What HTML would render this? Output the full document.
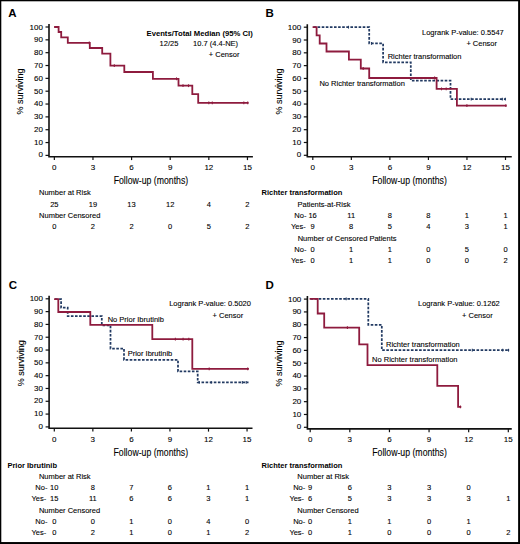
<!DOCTYPE html>
<html><head><meta charset="utf-8"><title>Kaplan-Meier survival curves</title>
<style>
html,body{margin:0;padding:0;background:#fff;}
body{width:520px;height:544px;overflow:hidden;}
svg{display:block;}
svg text{font-family:"Liberation Sans", sans-serif;fill:#000;stroke:#000;stroke-width:0.1px;} svg text[font-weight=bold]{stroke-width:0;}
</style></head>
<body>
<svg width="520" height="544" viewBox="0 0 520 544">
<rect x="0" y="0" width="520" height="544" fill="#fff"/>
<text x="8.30" y="16.80" font-size="11.5" text-anchor="start" font-weight="bold" >A</text>
<path d="M49.00,24.00 V156.80 H252.90" fill="none" stroke="#111" stroke-width="1.6"/>
<path d="M45.50,27.00 H49.00" stroke="#111" stroke-width="1.2"/>
<text x="42.90" y="29.60" font-size="8" text-anchor="end" font-weight="normal" >100</text>
<path d="M45.50,39.84 H49.00" stroke="#111" stroke-width="1.2"/>
<text x="42.90" y="42.38" font-size="8" text-anchor="end" font-weight="normal" >90</text>
<path d="M45.50,52.68 H49.00" stroke="#111" stroke-width="1.2"/>
<text x="42.90" y="55.16" font-size="8" text-anchor="end" font-weight="normal" >80</text>
<path d="M45.50,65.52 H49.00" stroke="#111" stroke-width="1.2"/>
<text x="42.90" y="67.94" font-size="8" text-anchor="end" font-weight="normal" >70</text>
<path d="M45.50,78.36 H49.00" stroke="#111" stroke-width="1.2"/>
<text x="42.90" y="80.72" font-size="8" text-anchor="end" font-weight="normal" >60</text>
<path d="M45.50,91.20 H49.00" stroke="#111" stroke-width="1.2"/>
<text x="42.90" y="93.50" font-size="8" text-anchor="end" font-weight="normal" >50</text>
<path d="M45.50,104.04 H49.00" stroke="#111" stroke-width="1.2"/>
<text x="42.90" y="106.28" font-size="8" text-anchor="end" font-weight="normal" >40</text>
<path d="M45.50,116.88 H49.00" stroke="#111" stroke-width="1.2"/>
<text x="42.90" y="119.06" font-size="8" text-anchor="end" font-weight="normal" >30</text>
<path d="M45.50,129.72 H49.00" stroke="#111" stroke-width="1.2"/>
<text x="42.90" y="131.84" font-size="8" text-anchor="end" font-weight="normal" >20</text>
<path d="M45.50,142.56 H49.00" stroke="#111" stroke-width="1.2"/>
<text x="42.90" y="144.62" font-size="8" text-anchor="end" font-weight="normal" >10</text>
<path d="M45.50,155.40 H49.00" stroke="#111" stroke-width="1.2"/>
<text x="42.90" y="157.40" font-size="8" text-anchor="end" font-weight="normal" >0</text>
<path d="M54.35,156.80 V160.10" stroke="#111" stroke-width="1.2"/>
<text x="54.35" y="169.80" font-size="8" text-anchor="middle" font-weight="normal" >0</text>
<path d="M92.97,156.80 V160.10" stroke="#111" stroke-width="1.2"/>
<text x="92.97" y="169.80" font-size="8" text-anchor="middle" font-weight="normal" >3</text>
<path d="M131.59,156.80 V160.10" stroke="#111" stroke-width="1.2"/>
<text x="131.59" y="169.80" font-size="8" text-anchor="middle" font-weight="normal" >6</text>
<path d="M170.21,156.80 V160.10" stroke="#111" stroke-width="1.2"/>
<text x="170.21" y="169.80" font-size="8" text-anchor="middle" font-weight="normal" >9</text>
<path d="M208.83,156.80 V160.10" stroke="#111" stroke-width="1.2"/>
<text x="208.83" y="169.80" font-size="8" text-anchor="middle" font-weight="normal" >12</text>
<path d="M247.45,156.80 V160.10" stroke="#111" stroke-width="1.2"/>
<text x="247.45" y="169.80" font-size="8" text-anchor="middle" font-weight="normal" >15</text>
<text x="150.95" y="183.60" font-size="10" text-anchor="middle" textLength="74.6" lengthAdjust="spacingAndGlyphs">Follow-up (months)</text>
<text x="0" y="0" font-size="9" text-anchor="middle" transform="translate(23.40,91.50) rotate(-90)">% surviving</text>
<path d="M55.00,27.00 H58.60 V32.00 H61.20 V37.40 H67.80 V42.80 H89.80 V48.00 H102.20 V53.60 H110.40 V65.60 H124.30 V72.00 H152.90 V78.80 H178.50 V85.70 H192.30 V94.20 H198.20 V102.80 H247.70" fill="none" stroke="#8e1b3e" stroke-width="1.8" stroke-linejoin="miter" stroke-linecap="square"/>
<path d="M89.30,41.40 V44.20" stroke="#8e1b3e" stroke-width="1.1"/>
<path d="M114.30,64.20 V67.00" stroke="#8e1b3e" stroke-width="1.1"/>
<path d="M176.50,77.40 V80.20" stroke="#8e1b3e" stroke-width="1.1"/>
<path d="M183.00,84.30 V87.10" stroke="#8e1b3e" stroke-width="1.1"/>
<path d="M188.50,84.30 V87.10" stroke="#8e1b3e" stroke-width="1.1"/>
<path d="M208.80,101.40 V104.20" stroke="#8e1b3e" stroke-width="1.1"/>
<path d="M212.30,101.40 V104.20" stroke="#8e1b3e" stroke-width="1.1"/>
<path d="M243.80,101.40 V104.20" stroke="#8e1b3e" stroke-width="1.1"/>
<path d="M247.70,101.40 V104.20" stroke="#8e1b3e" stroke-width="1.1"/>
<text x="146.50" y="36.00" font-size="7.7" text-anchor="start" font-weight="bold" >Events/Total Median (95% CI)</text>
<text x="159.60" y="46.40" font-size="7.5" text-anchor="start" font-weight="normal" >12/25</text>
<text x="193.10" y="46.40" font-size="7.5" text-anchor="start" font-weight="normal" >10.7 (4.4-NE)</text>
<text x="208.80" y="56.80" font-size="7.5" text-anchor="start" font-weight="normal" >+ Censor</text>
<text x="39.00" y="195.30" font-size="7.5" text-anchor="start" font-weight="normal" >Number at Risk</text>
<text x="54.30" y="207.10" font-size="7.5" text-anchor="middle" font-weight="normal" >25</text>
<text x="92.92" y="207.10" font-size="7.5" text-anchor="middle" font-weight="normal" >19</text>
<text x="131.54" y="207.10" font-size="7.5" text-anchor="middle" font-weight="normal" >13</text>
<text x="170.16" y="207.10" font-size="7.5" text-anchor="middle" font-weight="normal" >12</text>
<text x="208.78" y="207.10" font-size="7.5" text-anchor="middle" font-weight="normal" >4</text>
<text x="247.40" y="207.10" font-size="7.5" text-anchor="middle" font-weight="normal" >2</text>
<text x="39.10" y="218.30" font-size="7.5" text-anchor="start" font-weight="normal" >Number Censored</text>
<text x="54.30" y="229.10" font-size="7.5" text-anchor="middle" font-weight="normal" >0</text>
<text x="92.92" y="229.10" font-size="7.5" text-anchor="middle" font-weight="normal" >2</text>
<text x="131.54" y="229.10" font-size="7.5" text-anchor="middle" font-weight="normal" >2</text>
<text x="170.16" y="229.10" font-size="7.5" text-anchor="middle" font-weight="normal" >0</text>
<text x="208.78" y="229.10" font-size="7.5" text-anchor="middle" font-weight="normal" >5</text>
<text x="247.40" y="229.10" font-size="7.5" text-anchor="middle" font-weight="normal" >2</text>
<text x="265.50" y="16.70" font-size="11.5" text-anchor="start" font-weight="bold" >B</text>
<path d="M307.30,24.20 V156.70 H511.75" fill="none" stroke="#111" stroke-width="1.6"/>
<path d="M303.80,27.20 H307.30" stroke="#111" stroke-width="1.2"/>
<text x="301.20" y="29.80" font-size="8" text-anchor="end" font-weight="normal" >100</text>
<path d="M303.80,40.01 H307.30" stroke="#111" stroke-width="1.2"/>
<text x="301.20" y="42.55" font-size="8" text-anchor="end" font-weight="normal" >90</text>
<path d="M303.80,52.82 H307.30" stroke="#111" stroke-width="1.2"/>
<text x="301.20" y="55.30" font-size="8" text-anchor="end" font-weight="normal" >80</text>
<path d="M303.80,65.63 H307.30" stroke="#111" stroke-width="1.2"/>
<text x="301.20" y="68.05" font-size="8" text-anchor="end" font-weight="normal" >70</text>
<path d="M303.80,78.44 H307.30" stroke="#111" stroke-width="1.2"/>
<text x="301.20" y="80.80" font-size="8" text-anchor="end" font-weight="normal" >60</text>
<path d="M303.80,91.25 H307.30" stroke="#111" stroke-width="1.2"/>
<text x="301.20" y="93.55" font-size="8" text-anchor="end" font-weight="normal" >50</text>
<path d="M303.80,104.06 H307.30" stroke="#111" stroke-width="1.2"/>
<text x="301.20" y="106.30" font-size="8" text-anchor="end" font-weight="normal" >40</text>
<path d="M303.80,116.87 H307.30" stroke="#111" stroke-width="1.2"/>
<text x="301.20" y="119.05" font-size="8" text-anchor="end" font-weight="normal" >30</text>
<path d="M303.80,129.68 H307.30" stroke="#111" stroke-width="1.2"/>
<text x="301.20" y="131.80" font-size="8" text-anchor="end" font-weight="normal" >20</text>
<path d="M303.80,142.49 H307.30" stroke="#111" stroke-width="1.2"/>
<text x="301.20" y="144.55" font-size="8" text-anchor="end" font-weight="normal" >10</text>
<path d="M303.80,155.30 H307.30" stroke="#111" stroke-width="1.2"/>
<text x="301.20" y="157.30" font-size="8" text-anchor="end" font-weight="normal" >0</text>
<path d="M312.80,156.70 V160.00" stroke="#111" stroke-width="1.2"/>
<text x="312.80" y="169.80" font-size="8" text-anchor="middle" font-weight="normal" >0</text>
<path d="M351.34,156.70 V160.00" stroke="#111" stroke-width="1.2"/>
<text x="351.34" y="169.80" font-size="8" text-anchor="middle" font-weight="normal" >3</text>
<path d="M389.88,156.70 V160.00" stroke="#111" stroke-width="1.2"/>
<text x="389.88" y="169.80" font-size="8" text-anchor="middle" font-weight="normal" >6</text>
<path d="M428.42,156.70 V160.00" stroke="#111" stroke-width="1.2"/>
<text x="428.42" y="169.80" font-size="8" text-anchor="middle" font-weight="normal" >9</text>
<path d="M466.96,156.70 V160.00" stroke="#111" stroke-width="1.2"/>
<text x="466.96" y="169.80" font-size="8" text-anchor="middle" font-weight="normal" >12</text>
<path d="M505.50,156.70 V160.00" stroke="#111" stroke-width="1.2"/>
<text x="505.50" y="169.80" font-size="8" text-anchor="middle" font-weight="normal" >15</text>
<text x="409.52" y="183.60" font-size="10" text-anchor="middle" textLength="74.6" lengthAdjust="spacingAndGlyphs">Follow-up (months)</text>
<text x="0" y="0" font-size="9" text-anchor="middle" transform="translate(281.70,91.55) rotate(-90)">% surviving</text>
<path d="M313.50,27.20 H369.20 V43.40 H383.10 V62.30 H410.80 V80.50 H450.50 V99.20 H505.80" fill="none" stroke="#223a62" stroke-width="1.75" stroke-dasharray="2.6 1.5"/>
<path d="M348.50,25.80 V28.60" stroke="#223a62" stroke-width="1.1"/>
<path d="M371.50,42.00 V44.80" stroke="#223a62" stroke-width="1.1"/>
<path d="M471.20,97.80 V100.60" stroke="#223a62" stroke-width="1.1"/>
<path d="M502.30,97.80 V100.60" stroke="#223a62" stroke-width="1.1"/>
<path d="M505.40,97.80 V100.60" stroke="#223a62" stroke-width="1.1"/>
<path d="M313.50,27.20 H316.60 V35.40 H319.70 V43.50 H326.50 V51.50 H348.90 V59.70 H360.80 V68.50 H369.20 V78.00 H436.60 V88.90 H456.90 V105.70 H505.80" fill="none" stroke="#8e1b3e" stroke-width="1.8" stroke-linejoin="miter" stroke-linecap="square"/>
<path d="M363.20,67.10 V69.90" stroke="#8e1b3e" stroke-width="1.1"/>
<path d="M434.60,76.60 V79.40" stroke="#8e1b3e" stroke-width="1.1"/>
<path d="M441.50,87.50 V90.30" stroke="#8e1b3e" stroke-width="1.1"/>
<path d="M446.20,87.50 V90.30" stroke="#8e1b3e" stroke-width="1.1"/>
<path d="M466.90,104.30 V107.10" stroke="#8e1b3e" stroke-width="1.1"/>
<path d="M505.80,104.30 V107.10" stroke="#8e1b3e" stroke-width="1.1"/>
<text x="422.00" y="35.20" font-size="7.5" text-anchor="start" font-weight="normal" >Logrank P-value: 0.5547</text>
<text x="466.40" y="46.00" font-size="7.5" text-anchor="start" font-weight="normal" >+ Censor</text>
<text x="387.70" y="59.20" font-size="7.5" text-anchor="start" font-weight="normal" >Richter transformation</text>
<text x="319.40" y="85.90" font-size="7.5" text-anchor="start" font-weight="normal" >No Richter transformation</text>
<text x="261.50" y="195.30" font-size="7.5" text-anchor="start" font-weight="bold" >Richter transformation</text>
<text x="297.50" y="206.70" font-size="7.5" text-anchor="start" font-weight="normal" >Patients-at-Risk</text>
<text x="300.40" y="217.80" font-size="7.5" text-anchor="middle" font-weight="normal" >No-</text>
<text x="312.60" y="217.80" font-size="7.5" text-anchor="middle" font-weight="normal" >16</text>
<text x="351.18" y="217.80" font-size="7.5" text-anchor="middle" font-weight="normal" >11</text>
<text x="389.76" y="217.80" font-size="7.5" text-anchor="middle" font-weight="normal" >8</text>
<text x="428.34" y="217.80" font-size="7.5" text-anchor="middle" font-weight="normal" >8</text>
<text x="466.92" y="217.80" font-size="7.5" text-anchor="middle" font-weight="normal" >1</text>
<text x="505.50" y="217.80" font-size="7.5" text-anchor="middle" font-weight="normal" >1</text>
<text x="298.30" y="228.90" font-size="7.5" text-anchor="middle" font-weight="normal" >Yes-</text>
<text x="312.60" y="228.90" font-size="7.5" text-anchor="middle" font-weight="normal" >9</text>
<text x="351.18" y="228.90" font-size="7.5" text-anchor="middle" font-weight="normal" >8</text>
<text x="389.76" y="228.90" font-size="7.5" text-anchor="middle" font-weight="normal" >5</text>
<text x="428.34" y="228.90" font-size="7.5" text-anchor="middle" font-weight="normal" >4</text>
<text x="466.92" y="228.90" font-size="7.5" text-anchor="middle" font-weight="normal" >3</text>
<text x="505.50" y="228.90" font-size="7.5" text-anchor="middle" font-weight="normal" >1</text>
<text x="297.70" y="240.75" font-size="7.5" text-anchor="start" font-weight="normal" >Number of Censored Patients</text>
<text x="300.40" y="252.30" font-size="7.5" text-anchor="middle" font-weight="normal" >No-</text>
<text x="312.60" y="252.30" font-size="7.5" text-anchor="middle" font-weight="normal" >0</text>
<text x="351.18" y="252.30" font-size="7.5" text-anchor="middle" font-weight="normal" >1</text>
<text x="389.76" y="252.30" font-size="7.5" text-anchor="middle" font-weight="normal" >1</text>
<text x="428.34" y="252.30" font-size="7.5" text-anchor="middle" font-weight="normal" >0</text>
<text x="466.92" y="252.30" font-size="7.5" text-anchor="middle" font-weight="normal" >5</text>
<text x="505.50" y="252.30" font-size="7.5" text-anchor="middle" font-weight="normal" >0</text>
<text x="298.30" y="263.40" font-size="7.5" text-anchor="middle" font-weight="normal" >Yes-</text>
<text x="312.60" y="263.40" font-size="7.5" text-anchor="middle" font-weight="normal" >0</text>
<text x="351.18" y="263.40" font-size="7.5" text-anchor="middle" font-weight="normal" >1</text>
<text x="389.76" y="263.40" font-size="7.5" text-anchor="middle" font-weight="normal" >1</text>
<text x="428.34" y="263.40" font-size="7.5" text-anchor="middle" font-weight="normal" >0</text>
<text x="466.92" y="263.40" font-size="7.5" text-anchor="middle" font-weight="normal" >0</text>
<text x="505.50" y="263.40" font-size="7.5" text-anchor="middle" font-weight="normal" >2</text>
<text x="8.80" y="289.00" font-size="11.5" text-anchor="start" font-weight="bold" >C</text>
<path d="M49.10,295.80 V428.30 H252.50" fill="none" stroke="#111" stroke-width="1.6"/>
<path d="M45.60,298.80 H49.10" stroke="#111" stroke-width="1.2"/>
<text x="43.00" y="301.40" font-size="8" text-anchor="end" font-weight="normal" >100</text>
<path d="M45.60,311.61 H49.10" stroke="#111" stroke-width="1.2"/>
<text x="43.00" y="314.15" font-size="8" text-anchor="end" font-weight="normal" >90</text>
<path d="M45.60,324.42 H49.10" stroke="#111" stroke-width="1.2"/>
<text x="43.00" y="326.90" font-size="8" text-anchor="end" font-weight="normal" >80</text>
<path d="M45.60,337.23 H49.10" stroke="#111" stroke-width="1.2"/>
<text x="43.00" y="339.65" font-size="8" text-anchor="end" font-weight="normal" >70</text>
<path d="M45.60,350.04 H49.10" stroke="#111" stroke-width="1.2"/>
<text x="43.00" y="352.40" font-size="8" text-anchor="end" font-weight="normal" >60</text>
<path d="M45.60,362.85 H49.10" stroke="#111" stroke-width="1.2"/>
<text x="43.00" y="365.15" font-size="8" text-anchor="end" font-weight="normal" >50</text>
<path d="M45.60,375.66 H49.10" stroke="#111" stroke-width="1.2"/>
<text x="43.00" y="377.90" font-size="8" text-anchor="end" font-weight="normal" >40</text>
<path d="M45.60,388.47 H49.10" stroke="#111" stroke-width="1.2"/>
<text x="43.00" y="390.65" font-size="8" text-anchor="end" font-weight="normal" >30</text>
<path d="M45.60,401.28 H49.10" stroke="#111" stroke-width="1.2"/>
<text x="43.00" y="403.40" font-size="8" text-anchor="end" font-weight="normal" >20</text>
<path d="M45.60,414.09 H49.10" stroke="#111" stroke-width="1.2"/>
<text x="43.00" y="416.15" font-size="8" text-anchor="end" font-weight="normal" >10</text>
<path d="M45.60,426.90 H49.10" stroke="#111" stroke-width="1.2"/>
<text x="43.00" y="428.90" font-size="8" text-anchor="end" font-weight="normal" >0</text>
<path d="M54.30,428.30 V431.60" stroke="#111" stroke-width="1.2"/>
<text x="54.30" y="441.70" font-size="8" text-anchor="middle" font-weight="normal" >0</text>
<path d="M92.85,428.30 V431.60" stroke="#111" stroke-width="1.2"/>
<text x="92.85" y="441.70" font-size="8" text-anchor="middle" font-weight="normal" >3</text>
<path d="M131.40,428.30 V431.60" stroke="#111" stroke-width="1.2"/>
<text x="131.40" y="441.70" font-size="8" text-anchor="middle" font-weight="normal" >6</text>
<path d="M169.95,428.30 V431.60" stroke="#111" stroke-width="1.2"/>
<text x="169.95" y="441.70" font-size="8" text-anchor="middle" font-weight="normal" >9</text>
<path d="M208.50,428.30 V431.60" stroke="#111" stroke-width="1.2"/>
<text x="208.50" y="441.70" font-size="8" text-anchor="middle" font-weight="normal" >12</text>
<path d="M247.05,428.30 V431.60" stroke="#111" stroke-width="1.2"/>
<text x="247.05" y="441.70" font-size="8" text-anchor="middle" font-weight="normal" >15</text>
<text x="150.80" y="455.80" font-size="10" text-anchor="middle" textLength="74.6" lengthAdjust="spacingAndGlyphs">Follow-up (months)</text>
<text x="0" y="0" font-size="9" text-anchor="middle" transform="translate(23.50,363.15) rotate(-90)">% surviving</text>
<path d="M55.00,299.20 H61.10 V307.70 H67.70 V316.10 H101.80 V325.40 H110.50 V348.60 H124.00 V359.80 H178.00 V371.40 H197.70 V382.30 H248.50" fill="none" stroke="#223a62" stroke-width="1.75" stroke-dasharray="2.6 1.5"/>
<path d="M199.20,380.90 V383.70" stroke="#223a62" stroke-width="1.1"/>
<path d="M211.20,380.90 V383.70" stroke="#223a62" stroke-width="1.1"/>
<path d="M242.30,380.90 V383.70" stroke="#223a62" stroke-width="1.1"/>
<path d="M246.20,380.90 V383.70" stroke="#223a62" stroke-width="1.1"/>
<path d="M55.00,299.20 H58.30 V312.00 H90.30 V324.90 H152.30 V339.20 H192.30 V368.80 H248.00" fill="none" stroke="#8e1b3e" stroke-width="1.8" stroke-linejoin="miter" stroke-linecap="square"/>
<path d="M175.40,337.80 V340.60" stroke="#8e1b3e" stroke-width="1.1"/>
<path d="M183.10,337.80 V340.60" stroke="#8e1b3e" stroke-width="1.1"/>
<path d="M188.80,337.80 V340.60" stroke="#8e1b3e" stroke-width="1.1"/>
<path d="M209.20,367.40 V370.20" stroke="#8e1b3e" stroke-width="1.1"/>
<path d="M247.70,367.40 V370.20" stroke="#8e1b3e" stroke-width="1.1"/>
<text x="169.20" y="306.30" font-size="7.5" text-anchor="start" font-weight="normal" >Logrank P-value: 0.5020</text>
<text x="212.50" y="317.60" font-size="7.5" text-anchor="start" font-weight="normal" >+ Censor</text>
<text x="107.70" y="321.80" font-size="7.5" text-anchor="start" font-weight="normal" >No Prior Ibrutinib</text>
<text x="127.70" y="356.20" font-size="7.5" text-anchor="start" font-weight="normal" >Prior Ibrutinib</text>
<text x="7.40" y="467.50" font-size="7.5" text-anchor="start" font-weight="bold" >Prior Ibrutinib</text>
<text x="38.90" y="478.65" font-size="7.5" text-anchor="start" font-weight="normal" >Number at Risk</text>
<text x="41.40" y="489.80" font-size="7.5" text-anchor="middle" font-weight="normal" >No-</text>
<text x="54.25" y="489.80" font-size="7.5" text-anchor="middle" font-weight="normal" >10</text>
<text x="92.80" y="489.80" font-size="7.5" text-anchor="middle" font-weight="normal" >8</text>
<text x="131.35" y="489.80" font-size="7.5" text-anchor="middle" font-weight="normal" >7</text>
<text x="169.90" y="489.80" font-size="7.5" text-anchor="middle" font-weight="normal" >6</text>
<text x="208.45" y="489.80" font-size="7.5" text-anchor="middle" font-weight="normal" >1</text>
<text x="247.00" y="489.80" font-size="7.5" text-anchor="middle" font-weight="normal" >1</text>
<text x="38.90" y="500.90" font-size="7.5" text-anchor="middle" font-weight="normal" >Yes-</text>
<text x="54.25" y="500.90" font-size="7.5" text-anchor="middle" font-weight="normal" >15</text>
<text x="92.80" y="500.90" font-size="7.5" text-anchor="middle" font-weight="normal" >11</text>
<text x="131.35" y="500.90" font-size="7.5" text-anchor="middle" font-weight="normal" >6</text>
<text x="169.90" y="500.90" font-size="7.5" text-anchor="middle" font-weight="normal" >6</text>
<text x="208.45" y="500.90" font-size="7.5" text-anchor="middle" font-weight="normal" >3</text>
<text x="247.00" y="500.90" font-size="7.5" text-anchor="middle" font-weight="normal" >1</text>
<text x="38.90" y="512.75" font-size="7.5" text-anchor="start" font-weight="normal" >Number Censored</text>
<text x="41.40" y="524.30" font-size="7.5" text-anchor="middle" font-weight="normal" >No-</text>
<text x="54.25" y="524.30" font-size="7.5" text-anchor="middle" font-weight="normal" >0</text>
<text x="92.80" y="524.30" font-size="7.5" text-anchor="middle" font-weight="normal" >0</text>
<text x="131.35" y="524.30" font-size="7.5" text-anchor="middle" font-weight="normal" >1</text>
<text x="169.90" y="524.30" font-size="7.5" text-anchor="middle" font-weight="normal" >0</text>
<text x="208.45" y="524.30" font-size="7.5" text-anchor="middle" font-weight="normal" >4</text>
<text x="247.00" y="524.30" font-size="7.5" text-anchor="middle" font-weight="normal" >0</text>
<text x="38.90" y="535.40" font-size="7.5" text-anchor="middle" font-weight="normal" >Yes-</text>
<text x="54.25" y="535.40" font-size="7.5" text-anchor="middle" font-weight="normal" >0</text>
<text x="92.80" y="535.40" font-size="7.5" text-anchor="middle" font-weight="normal" >2</text>
<text x="131.35" y="535.40" font-size="7.5" text-anchor="middle" font-weight="normal" >1</text>
<text x="169.90" y="535.40" font-size="7.5" text-anchor="middle" font-weight="normal" >0</text>
<text x="208.45" y="535.40" font-size="7.5" text-anchor="middle" font-weight="normal" >1</text>
<text x="247.00" y="535.40" font-size="7.5" text-anchor="middle" font-weight="normal" >2</text>
<text x="265.50" y="289.00" font-size="11.5" text-anchor="start" font-weight="bold" >D</text>
<path d="M307.40,296.10 V428.90 H511.75" fill="none" stroke="#111" stroke-width="1.6"/>
<path d="M303.90,299.10 H307.40" stroke="#111" stroke-width="1.2"/>
<text x="301.30" y="301.70" font-size="8" text-anchor="end" font-weight="normal" >100</text>
<path d="M303.90,311.92 H307.40" stroke="#111" stroke-width="1.2"/>
<text x="301.30" y="314.46" font-size="8" text-anchor="end" font-weight="normal" >90</text>
<path d="M303.90,324.74 H307.40" stroke="#111" stroke-width="1.2"/>
<text x="301.30" y="327.22" font-size="8" text-anchor="end" font-weight="normal" >80</text>
<path d="M303.90,337.56 H307.40" stroke="#111" stroke-width="1.2"/>
<text x="301.30" y="339.98" font-size="8" text-anchor="end" font-weight="normal" >70</text>
<path d="M303.90,350.38 H307.40" stroke="#111" stroke-width="1.2"/>
<text x="301.30" y="352.74" font-size="8" text-anchor="end" font-weight="normal" >60</text>
<path d="M303.90,363.20 H307.40" stroke="#111" stroke-width="1.2"/>
<text x="301.30" y="365.50" font-size="8" text-anchor="end" font-weight="normal" >50</text>
<path d="M303.90,376.02 H307.40" stroke="#111" stroke-width="1.2"/>
<text x="301.30" y="378.26" font-size="8" text-anchor="end" font-weight="normal" >40</text>
<path d="M303.90,388.84 H307.40" stroke="#111" stroke-width="1.2"/>
<text x="301.30" y="391.02" font-size="8" text-anchor="end" font-weight="normal" >30</text>
<path d="M303.90,401.66 H307.40" stroke="#111" stroke-width="1.2"/>
<text x="301.30" y="403.78" font-size="8" text-anchor="end" font-weight="normal" >20</text>
<path d="M303.90,414.48 H307.40" stroke="#111" stroke-width="1.2"/>
<text x="301.30" y="416.54" font-size="8" text-anchor="end" font-weight="normal" >10</text>
<path d="M303.90,427.30 H307.40" stroke="#111" stroke-width="1.2"/>
<text x="301.30" y="429.30" font-size="8" text-anchor="end" font-weight="normal" >0</text>
<path d="M310.20,428.90 V432.20" stroke="#111" stroke-width="1.2"/>
<text x="310.20" y="441.90" font-size="8" text-anchor="middle" font-weight="normal" >0</text>
<path d="M349.82,428.90 V432.20" stroke="#111" stroke-width="1.2"/>
<text x="349.82" y="441.90" font-size="8" text-anchor="middle" font-weight="normal" >3</text>
<path d="M389.44,428.90 V432.20" stroke="#111" stroke-width="1.2"/>
<text x="389.44" y="441.90" font-size="8" text-anchor="middle" font-weight="normal" >6</text>
<path d="M429.06,428.90 V432.20" stroke="#111" stroke-width="1.2"/>
<text x="429.06" y="441.90" font-size="8" text-anchor="middle" font-weight="normal" >9</text>
<path d="M468.68,428.90 V432.20" stroke="#111" stroke-width="1.2"/>
<text x="468.68" y="441.90" font-size="8" text-anchor="middle" font-weight="normal" >12</text>
<path d="M508.30,428.90 V432.20" stroke="#111" stroke-width="1.2"/>
<text x="508.30" y="441.90" font-size="8" text-anchor="middle" font-weight="normal" >15</text>
<text x="409.57" y="455.80" font-size="10" text-anchor="middle" textLength="74.6" lengthAdjust="spacingAndGlyphs">Follow-up (months)</text>
<text x="0" y="0" font-size="9" text-anchor="middle" transform="translate(281.80,363.50) rotate(-90)">% surviving</text>
<path d="M310.50,298.90 H368.30 V324.80 H381.80 V350.20 H509.40" fill="none" stroke="#223a62" stroke-width="1.75" stroke-dasharray="2.6 1.5"/>
<path d="M346.20,297.50 V300.30" stroke="#223a62" stroke-width="1.1"/>
<path d="M472.30,348.80 V351.60" stroke="#223a62" stroke-width="1.1"/>
<path d="M502.70,348.80 V351.60" stroke="#223a62" stroke-width="1.1"/>
<path d="M508.50,348.80 V351.60" stroke="#223a62" stroke-width="1.1"/>
<path d="M310.50,298.90 H317.70 V313.50 H324.20 V327.70 H359.20 V344.40 H367.50 V365.20 H437.30 V385.80 H458.10 V406.90 H460.40" fill="none" stroke="#8e1b3e" stroke-width="1.8" stroke-linejoin="miter" stroke-linecap="square"/>
<path d="M347.40,326.30 V329.10" stroke="#8e1b3e" stroke-width="1.1"/>
<path d="M460.40,405.50 V408.30" stroke="#8e1b3e" stroke-width="1.1"/>
<text x="418.00" y="306.30" font-size="7.5" text-anchor="start" font-weight="normal" >Logrank P-value: 0.1262</text>
<text x="462.00" y="317.60" font-size="7.5" text-anchor="start" font-weight="normal" >+ Censor</text>
<text x="386.00" y="346.80" font-size="7.5" text-anchor="start" font-weight="normal" >Richter transformation</text>
<text x="372.10" y="361.80" font-size="7.5" text-anchor="start" font-weight="normal" >No Richter transformation</text>
<text x="261.50" y="467.50" font-size="7.5" text-anchor="start" font-weight="bold" >Richter transformation</text>
<text x="297.30" y="478.65" font-size="7.5" text-anchor="start" font-weight="normal" >Number at Risk</text>
<text x="299.20" y="489.80" font-size="7.5" text-anchor="middle" font-weight="normal" >No-</text>
<text x="310.20" y="489.80" font-size="7.5" text-anchor="middle" font-weight="normal" >9</text>
<text x="349.82" y="489.80" font-size="7.5" text-anchor="middle" font-weight="normal" >6</text>
<text x="389.44" y="489.80" font-size="7.5" text-anchor="middle" font-weight="normal" >3</text>
<text x="429.06" y="489.80" font-size="7.5" text-anchor="middle" font-weight="normal" >3</text>
<text x="468.68" y="489.80" font-size="7.5" text-anchor="middle" font-weight="normal" >0</text>
<text x="296.75" y="500.90" font-size="7.5" text-anchor="middle" font-weight="normal" >Yes-</text>
<text x="310.20" y="500.90" font-size="7.5" text-anchor="middle" font-weight="normal" >6</text>
<text x="349.82" y="500.90" font-size="7.5" text-anchor="middle" font-weight="normal" >5</text>
<text x="389.44" y="500.90" font-size="7.5" text-anchor="middle" font-weight="normal" >3</text>
<text x="429.06" y="500.90" font-size="7.5" text-anchor="middle" font-weight="normal" >3</text>
<text x="468.68" y="500.90" font-size="7.5" text-anchor="middle" font-weight="normal" >3</text>
<text x="508.30" y="500.90" font-size="7.5" text-anchor="middle" font-weight="normal" >1</text>
<text x="297.30" y="512.75" font-size="7.5" text-anchor="start" font-weight="normal" >Number Censored</text>
<text x="299.20" y="524.30" font-size="7.5" text-anchor="middle" font-weight="normal" >No-</text>
<text x="310.20" y="524.30" font-size="7.5" text-anchor="middle" font-weight="normal" >0</text>
<text x="349.82" y="524.30" font-size="7.5" text-anchor="middle" font-weight="normal" >1</text>
<text x="389.44" y="524.30" font-size="7.5" text-anchor="middle" font-weight="normal" >1</text>
<text x="429.06" y="524.30" font-size="7.5" text-anchor="middle" font-weight="normal" >0</text>
<text x="468.68" y="524.30" font-size="7.5" text-anchor="middle" font-weight="normal" >1</text>
<text x="296.75" y="535.40" font-size="7.5" text-anchor="middle" font-weight="normal" >Yes-</text>
<text x="310.20" y="535.40" font-size="7.5" text-anchor="middle" font-weight="normal" >0</text>
<text x="349.82" y="535.40" font-size="7.5" text-anchor="middle" font-weight="normal" >1</text>
<text x="389.44" y="535.40" font-size="7.5" text-anchor="middle" font-weight="normal" >0</text>
<text x="429.06" y="535.40" font-size="7.5" text-anchor="middle" font-weight="normal" >0</text>
<text x="468.68" y="535.40" font-size="7.5" text-anchor="middle" font-weight="normal" >0</text>
<text x="508.30" y="535.40" font-size="7.5" text-anchor="middle" font-weight="normal" >2</text>
<rect x="0.6" y="0.6" width="518.4" height="542.2" fill="none" stroke="#000" stroke-width="1.4"/>
<path d="M519.2,0 V544 M0,543.2 H520" stroke="#000" stroke-width="1.6"/>
</svg>
</body></html>
